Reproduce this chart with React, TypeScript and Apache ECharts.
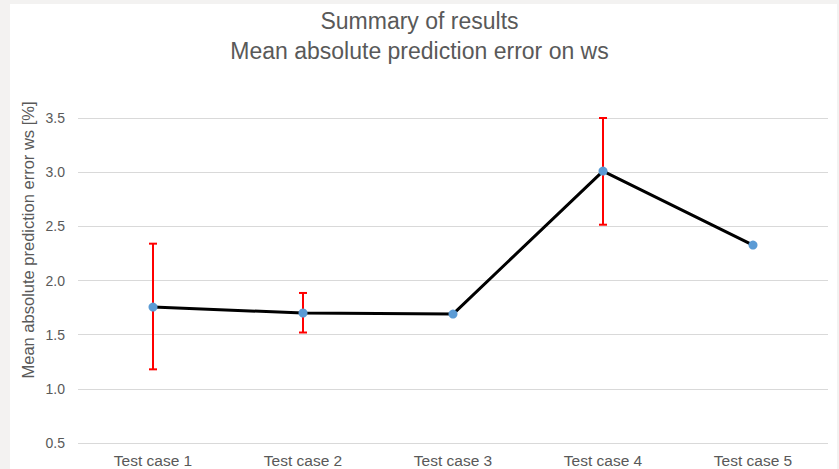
import React, { useEffect, useRef } from "react";
import * as echarts from "echarts";

const categories = ["Test case 1", "Test case 2", "Test case 3", "Test case 4", "Test case 5"];
const meanValues = [1.755, 1.70, 1.69, 3.01, 2.327];
const errLow = [1.18, 1.52, 1.69, 2.515, 2.327];
const errHigh = [2.34, 1.885, 1.69, 3.5, 2.327];
const hasError = [true, true, false, true, false];

const FONT = "'Liberation Sans', Arial, sans-serif";

export default function App() {
  const ref = useRef<HTMLDivElement>(null);
  useEffect(() => {
    document.body.style.margin = "0";
    document.body.style.background = "#f3f2f1";
    const chart = echarts.init(ref.current!, null, { renderer: "svg" });
    const errData = categories
      .map((c, i) => (hasError[i] ? [i, errLow[i], errHigh[i]] : null))
      .filter((d) => d !== null);
    chart.setOption({
      animation: false,
      backgroundColor: "transparent",
      graphic: [
        {
          type: "rect",
          shape: { x: 10, y: 4, width: 827, height: 470 },
          style: { fill: "#ffffff" },
          z: -10,
          silent: true,
        },
        {
          type: "text",
          x: 28,
          y: 240,
          rotation: Math.PI / 2,
          style: {
            text: "Mean absolute prediction error ws [%]",
            fontSize: 16.5,
            fontFamily: FONT,
            fill: "#595959",
            align: "center",
            verticalAlign: "middle",
          },
        },
      ],
      title: {
        text: "Summary of results\nMean absolute prediction error on ws",
        left: "center",
        top: 6,
        padding: 0,
        textStyle: {
          fontSize: 23,
          fontWeight: "normal",
          fontFamily: FONT,
          color: "#595959",
          lineHeight: 30,
          align: "center",
        },
      },
      grid: { left: 78, right: 11, top: 118, bottom: 26, containLabel: false },
      xAxis: {
        type: "category",
        data: categories,
        boundaryGap: true,
        axisLine: { show: false },
        axisTick: { show: false },
        axisLabel: { color: "#595959", fontSize: 15.5, fontFamily: FONT, margin: 9 },
      },
      yAxis: {
        type: "value",
        min: 0.5,
        max: 3.5,
        interval: 0.5,
        axisLine: { show: false },
        axisTick: { show: false },
        axisLabel: {
          color: "#595959",
          fontSize: 14,
          fontFamily: FONT,
          margin: 13,
          formatter: (v: number) => v.toFixed(1),
        },
        splitLine: { lineStyle: { color: "#d9d9d9", width: 1 } },
      },
      series: [
        {
          type: "custom",
          z: 1,
          data: errData,
          renderItem: (params: any, api: any) => {
            const x = api.value(0);
            const lo = api.coord([x, api.value(1)]);
            const hi = api.coord([x, api.value(2)]);
            const cap = 4;
            const style = { stroke: "#ff0000", lineWidth: 2 };
            return {
              type: "group",
              children: [
                { type: "line", shape: { x1: hi[0], y1: hi[1], x2: lo[0], y2: lo[1] }, style },
                { type: "line", shape: { x1: hi[0] - cap, y1: hi[1], x2: hi[0] + cap, y2: hi[1] }, style },
                { type: "line", shape: { x1: lo[0] - cap, y1: lo[1], x2: lo[0] + cap, y2: lo[1] }, style },
              ],
            };
          },
        },
        {
          type: "line",
          z: 3,
          data: meanValues,
          symbol: "circle",
          symbolSize: 9,
          lineStyle: { color: "#000000", width: 3 },
          itemStyle: { color: "#5b9bd5", borderWidth: 0 },
        },
      ],
    });
    return () => chart.dispose();
  }, []);
  return <div ref={ref} style={{ width: 839, height: 469 }} />;
}
